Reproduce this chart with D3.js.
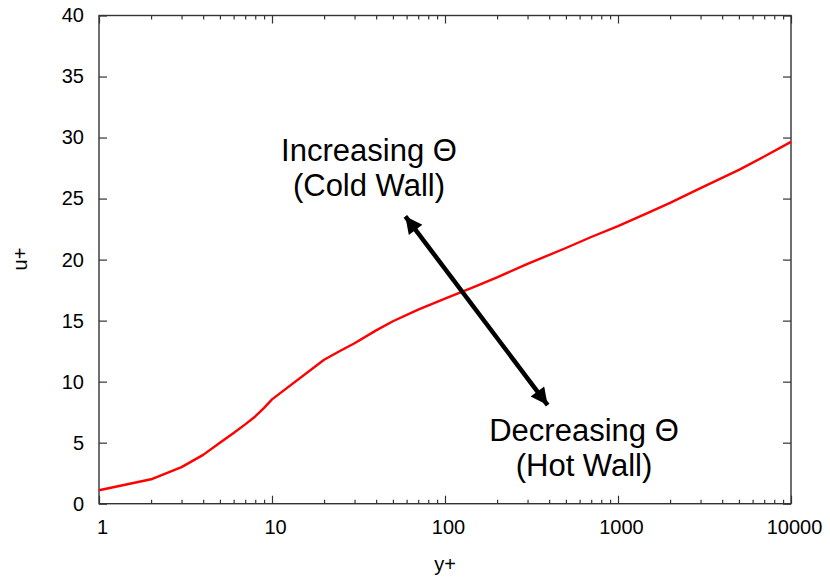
<!DOCTYPE html>
<html>
<head>
<meta charset="utf-8">
<script src="https://cdn.jsdelivr.net/npm/d3@7/dist/d3.min.js"></script>
<style>
  html, body { margin: 0; padding: 0; background: #fff; }
  svg { display: block; }
  text { font-family: "Liberation Sans", Arial, sans-serif; fill: #000; }
</style>
</head>
<body>
<svg id="chart" width="830" height="577"></svg>
<script>
// Mean velocity profile in wall units
const yPlus = [1, 2, 3, 4, 5, 6, 7, 8, 9, 10, 20, 25, 30, 40, 50, 70, 100, 150, 200, 300, 500, 700, 1000, 1500, 2000, 3000, 5000, 7000, 10000];
const uPlus = [1.1, 2.0, 3.0, 4.0, 5.0, 5.8, 6.5, 7.15, 7.85, 8.55, 11.8, 12.55, 13.15, 14.2, 14.95, 15.9, 16.8, 17.8, 18.55, 19.65, 20.95, 21.85, 22.75, 23.85, 24.65, 25.85, 27.35, 28.45, 29.65];

// Axis ticks
const xMajorTicks = [1, 10, 100, 1000, 10000];
const yTicks = [0, 5, 10, 15, 20, 25, 30, 35, 40];

// Annotation: double-headed arrow between [y+, u+] points, and its labels
const arrowEnds = [[59, 23.55], [392, 8.08]];
const upperLabel = ["Increasing \u0398", "(Cold Wall)"];
const lowerLabel = ["Decreasing \u0398", "(Hot Wall)"];

const svg = d3.select("#chart");
const plotLeft = 99, plotRight = 791, plotTop = 15.5, plotBottom = 503.7;

const x = d3.scaleLog().domain([1, 10000]).range([plotLeft, plotRight]);
const y = d3.scaleLinear().domain([0, 40]).range([plotBottom, plotTop]);

const xMinorTicks = [];
for (let d = 1; d < 10000; d *= 10) {
  for (let k = 2; k <= 9; k++) xMinorTicks.push(d * k);
}

const frameColor = "#333";

function styleAxis(g, fontSize) {
  g.select(".domain").remove();
  g.selectAll(".tick line").attr("stroke", frameColor).attr("stroke-width", 1.2);
  g.selectAll(".tick text").style("font-size", fontSize + "px").attr("fill", "#000");
}

// Bottom axis: major + minor ticks pointing inward
svg.append("g").attr("transform", `translate(0,${plotBottom})`)
  .call(d3.axisBottom(x).tickValues(xMajorTicks).tickSize(-8).tickPadding(16).tickFormat(d3.format("d")))
  .call(g => styleAxis(g, 20))
  .call(g => g.selectAll(".tick text").attr("dx", 3));
svg.append("g").attr("transform", `translate(0,${plotBottom})`)
  .call(d3.axisBottom(x).tickValues(xMinorTicks).tickSize(-4).tickFormat(""))
  .call(g => styleAxis(g, 20));

// Top axis (mirrored ticks)
svg.append("g").attr("transform", `translate(0,${plotTop})`)
  .call(d3.axisTop(x).tickValues(xMajorTicks).tickSize(-8).tickFormat(""))
  .call(g => styleAxis(g, 20));
svg.append("g").attr("transform", `translate(0,${plotTop})`)
  .call(d3.axisTop(x).tickValues(xMinorTicks).tickSize(-4).tickFormat(""))
  .call(g => styleAxis(g, 20));

// Left axis
svg.append("g").attr("transform", `translate(${plotLeft},0)`)
  .call(d3.axisLeft(y).tickValues(yTicks).tickSize(-8).tickPadding(15))
  .call(g => styleAxis(g, 20));

// Right axis (mirrored ticks)
svg.append("g").attr("transform", `translate(${plotRight},0)`)
  .call(d3.axisRight(y).tickValues(yTicks).tickSize(-8).tickFormat(""))
  .call(g => styleAxis(g, 20));

// Plot frame
svg.append("rect")
  .attr("x", plotLeft).attr("y", plotTop)
  .attr("width", plotRight - plotLeft).attr("height", plotBottom - plotTop)
  .attr("fill", "none").attr("stroke", frameColor).attr("stroke-width", 1.4);

// Axis titles
svg.append("text")
  .attr("x", 445).attr("y", 571)
  .attr("text-anchor", "middle")
  .style("font-size", "20px")
  .text("y+");
svg.append("text")
  .attr("transform", "translate(27,259) rotate(-90)")
  .attr("text-anchor", "middle")
  .style("font-size", "20px")
  .text("u+");

// Velocity profile
const profile = yPlus.map((d, i) => [d, uPlus[i]]);
svg.append("path")
  .datum(profile)
  .attr("fill", "none")
  .attr("stroke", "#ff0000")
  .attr("stroke-width", 2.4)
  .attr("stroke-linejoin", "round")
  .attr("d", d3.line().x(d => x(d[0])).y(d => y(d[1])));

// Arrow heads
const defs = svg.append("defs");
["start", "end"].forEach(id => {
  defs.append("marker")
    .attr("id", "head-" + id)
    .attr("viewBox", "0 0 10 10")
    .attr("refX", 10).attr("refY", 5)
    .attr("markerWidth", 19).attr("markerHeight", 17)
    .attr("markerUnits", "userSpaceOnUse")
    .attr("orient", id === "start" ? "auto-start-reverse" : "auto")
    .append("path")
    .attr("d", "M0,0 L10,5 L0,10 z")
    .attr("fill", "#000");
});

const [a0, a1] = arrowEnds;
const ax0 = x(a0[0]), ay0 = y(a0[1]), ax1 = x(a1[0]), ay1 = y(a1[1]);
svg.append("line")
  .attr("x1", ax0).attr("y1", ay0)
  .attr("x2", ax1).attr("y2", ay1)
  .attr("stroke", "#000")
  .attr("stroke-width", 4.5)
  .attr("marker-start", "url(#head-start)")
  .attr("marker-end", "url(#head-end)");

// Arrow labels
function label(lines, cx, baseline) {
  const t = svg.append("text")
    .attr("text-anchor", "middle")
    .style("font-size", "31px");
  lines.forEach((s, i) => {
    t.append("tspan").attr("x", cx).attr("y", baseline + i * 35).text(s);
  });
}
label(upperLabel, 369, 161);
label(lowerLabel, 584, 441);
</script>
</body>
</html>
